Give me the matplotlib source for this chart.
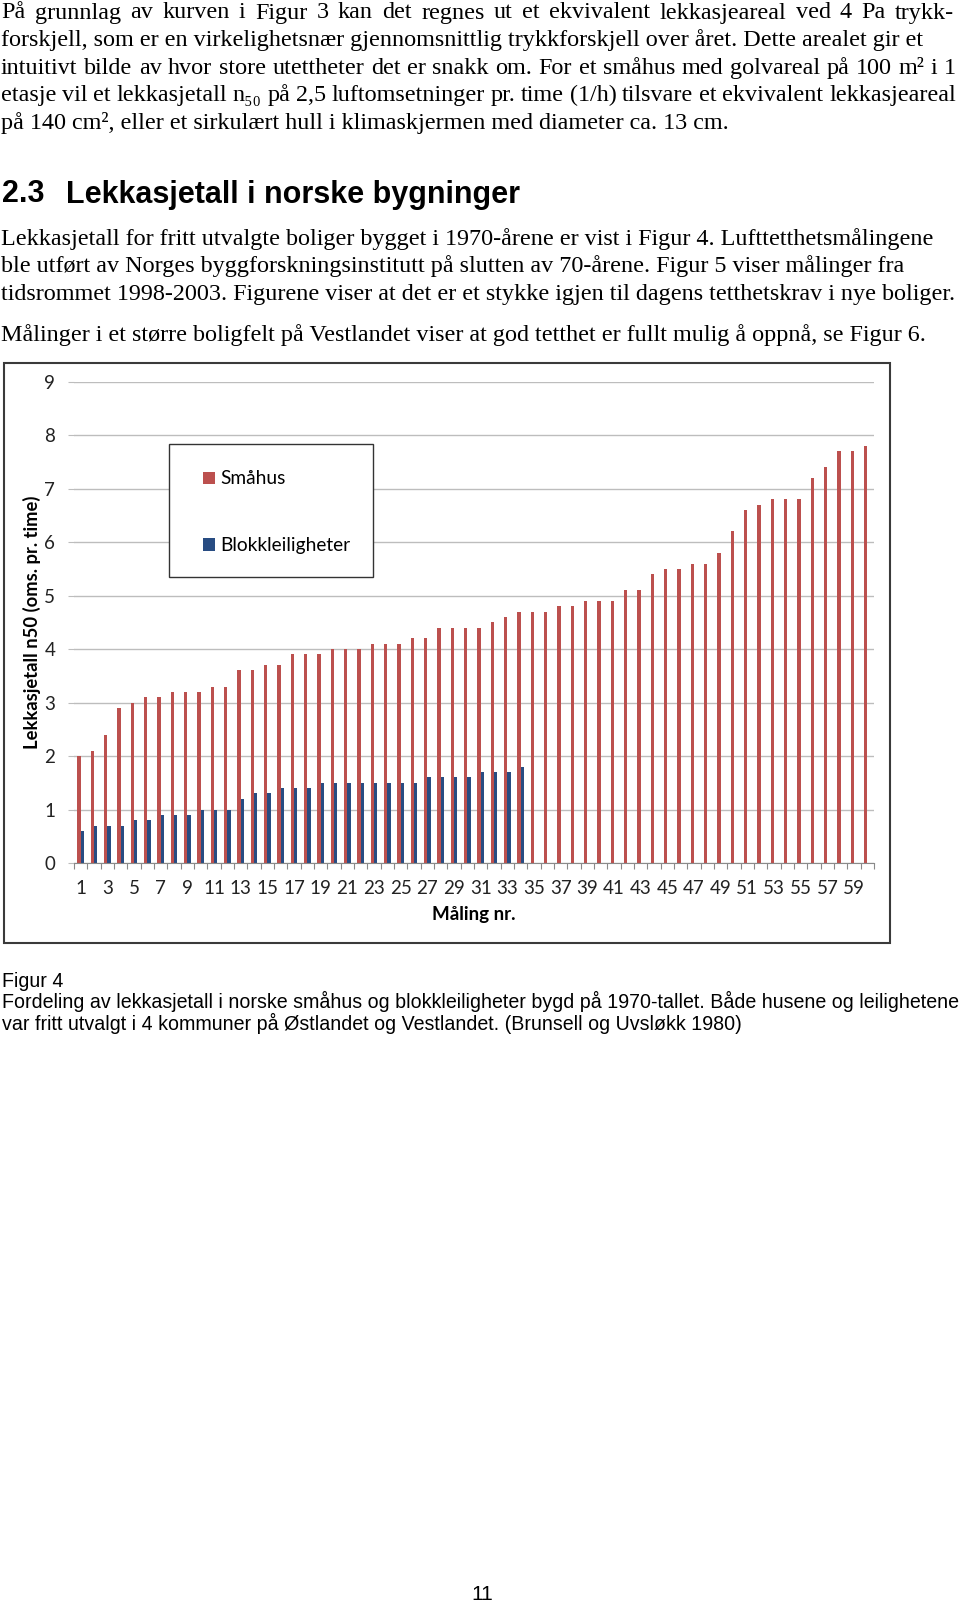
import matplotlib
matplotlib.use("Agg")
import matplotlib.pyplot as plt
from matplotlib.patches import Rectangle
import numpy as np

# data (Figur 4)
smahus = [2.0, 2.1, 2.4, 2.9, 3.0, 3.1, 3.1, 3.2, 3.2, 3.2,
          3.3, 3.3, 3.6, 3.6, 3.7, 3.7, 3.9, 3.9, 3.9, 4.0,
          4.0, 4.0, 4.1, 4.1, 4.1, 4.2, 4.2, 4.4, 4.4, 4.4,
          4.4, 4.5, 4.6, 4.7, 4.7, 4.7, 4.8, 4.8, 4.9, 4.9,
          4.9, 5.1, 5.1, 5.4, 5.5, 5.5, 5.6, 5.6, 5.8, 6.2,
          6.6, 6.7, 6.8, 6.8, 6.8, 7.2, 7.4, 7.7, 7.7, 7.8]
blokk = [0.6, 0.7, 0.7, 0.7, 0.8, 0.8, 0.9, 0.9, 0.9, 1.0,
         1.0, 1.0, 1.2, 1.3, 1.3, 1.4, 1.4, 1.4, 1.5, 1.5,
         1.5, 1.5, 1.5, 1.5, 1.5, 1.5, 1.6, 1.6, 1.6, 1.6,
         1.7, 1.7, 1.7, 1.8]
series_names = ['Småhus', 'Blokkleiligheter']
y_ticks = list(range(0, 10))

para1 = ["På grunnlag av kurven i Figur 3 kan det regnes ut et ekvivalent lekkasjeareal ved 4 Pa trykk-",
         "forskjell, som er en virkelighetsnær gjennomsnittlig trykkforskjell over året. Dette arealet gir et",
         "intuitivt bilde av hvor store utettheter det er snakk om. For et småhus med golvareal på 100 m² i 1",
         "etasje vil et lekkasjetall n₅₀ på 2,5 luftomsetninger pr. time (1/h) tilsvare et ekvivalent lekkasjeareal",
         "på 140 cm², eller et sirkulært hull i klimaskjermen med diameter ca. 13 cm."]
para2 = ["Lekkasjetall for fritt utvalgte boliger bygget i 1970-årene er vist i Figur 4. Lufttetthetsmålingene",
         "ble utført av Norges byggforskningsinstitutt på slutten av 70-årene. Figur 5 viser målinger fra",
         "tidsrommet 1998-2003. Figurene viser at det er et stykke igjen til dagens tetthetskrav i nye boliger."]
para3 = ["Målinger i et større boligfelt på Vestlandet viser at god tetthet er fullt mulig å oppnå, se Figur 6."]
caption = ["Figur 4",
           "Fordeling av lekkasjetall i norske småhus og blokkleiligheter bygd på 1970-tallet. Både husene og leilighetene",
           "var fritt utvalgt i 4 kommuner på Østlandet og Vestlandet. (Brunsell og Uvsløkk 1980)"]

W, H = 960, 1604
fig = plt.figure(figsize=(W / 100, H / 100), dpi=100)
fig.patch.set_facecolor('white')

def fx(x):
    return x / W

def fy(y):
    return 1 - y / H

serif = ['Liberation Serif', 'DejaVu Serif']
sans = 'Liberation Sans'
chartfont = 'Lato'
body_size = 17.4


def justified(line, y, x0, x1, **kw):
    # spread the words of one line between x0 and x1 (pixels)
    r = fig.canvas.get_renderer()
    words = line.split(' ')
    items = [fig.text(0, fy(y), w, va='baseline', **kw) for w in words]
    widths = [t.get_window_extent(r).width for t in items]
    gap = (x1 - x0 - sum(widths)) / (len(words) - 1)
    x = x0
    for t, w in zip(items, widths):
        t.set_x(fx(x))
        x += w + gap


# body text, lines 1, 3 and 4 are justified in the original
line_ends = {0: 954, 2: 956, 3: 956}
for i, line in enumerate(para1):
    if i in line_ends:
        justified(line, 18.5 + i * 27.6, 1, line_ends[i], family=serif, fontsize=body_size)
    else:
        fig.text(fx(1), fy(18.5 + i * 27.6), line, family=serif, fontsize=body_size, va='baseline')
fig.text(fx(2), fy(202.5), "2.3", family=sans, fontsize=22, fontweight='bold', va='baseline')
fig.text(fx(66), fy(202.5), "Lekkasjetall i norske bygninger", family=sans, fontsize=22,
         fontweight='bold', va='baseline')
for i, line in enumerate(para2):
    fig.text(fx(1), fy(244.6 + i * 27.6), line, family=serif, fontsize=body_size, va='baseline')
fig.text(fx(1), fy(340.8), para3[0], family=serif, fontsize=body_size, va='baseline')

for i, line in enumerate(caption):
    fig.text(fx(2), fy(986.6 + i * 21.6), line, family=sans, fontsize=14.1, va='baseline')
fig.text(fx(482), fy(1595), "11", family=sans, fontsize=15, ha='center', va='center')

# chart frame
fig.patches.append(Rectangle((fx(4), fy(943)), (890 - 4) / W, (943 - 363) / H,
                             transform=fig.transFigure, fill=False, ec='#3a3a3a', lw=1.5))

ax = fig.add_axes([74 / W, 1 - 863 / H, 800 / W, 481.3 / H])
x_s = np.arange(1, len(smahus) + 1)
x_b = np.arange(1, len(blokk) + 1)
red = '#BC504E'
blue = '#284C82'
b1 = ax.bar(x_s - 0.125, smahus, width=0.25, color=red, label=series_names[0], zorder=3)
b2 = ax.bar(x_b + 0.125, blokk, width=0.25, color=blue, label=series_names[1], zorder=3)

ax.set_xlim(0.5, len(smahus) + 0.5)
ax.set_ylim(0, 9)
ax.set_yticks(y_ticks)
ax.set_yticklabels([str(v) for v in y_ticks], family=chartfont, fontsize=13.5)
ax.set_xticks(x_s[::2])
ax.set_xticklabels([str(v) for v in x_s[::2]], family=chartfont, fontsize=13.5)
ax.set_xticks(np.arange(0.5, len(smahus) + 1), minor=True)
ax.tick_params(axis='x', which='major', length=0, pad=12.5, colors='#222222')
ax.tick_params(axis='x', which='minor', length=4.5, color='#8a8a8a', width=0.8)
ax.tick_params(axis='y', length=4.5, width=0.8, pad=9, colors='#222222')
ax.tick_params(axis='y', color='#bdbdbd')
ax.yaxis.grid(True, color='#bdbdbd', lw=1.0, zorder=0)
for s in ['top', 'right', 'left']:
    ax.spines[s].set_visible(False)
ax.spines['bottom'].set_color('#8a8a8a')
ax.spines['bottom'].set_zorder(4)

ax.set_ylabel("Lekkasjetall n50 (oms. pr. time)", family=chartfont, fontsize=13.2,
              fontweight='bold', va='center')
ax.yaxis.set_label_coords(-0.0525, 0.5)
ax.set_xlabel("Måling nr.", family=chartfont, fontsize=13.5, fontweight='bold', va='center')
ax.xaxis.set_label_coords(0.5, -0.108)

# legend: white box with its own frame, entries placed inside
legend_box = Rectangle((fx(169), fy(577)), (373 - 169) / W, (577 - 444) / H,
                       transform=fig.transFigure, facecolor='white', ec='#333333',
                       lw=1.0, zorder=4.5)
ax.add_artist(legend_box)
leg = ax.legend(handles=[b1, b2], loc='upper left', bbox_to_anchor=(fx(203), fy(470.5)),
                bbox_transform=fig.transFigure, borderaxespad=0, frameon=False,
                prop={'family': chartfont, 'size': 13.8},
                handlelength=0.62, handleheight=0.62, handletextpad=0.3,
                labelspacing=2.6, borderpad=0)
leg.set_zorder(5)

fig.savefig('out.png', dpi=100, facecolor='white')
